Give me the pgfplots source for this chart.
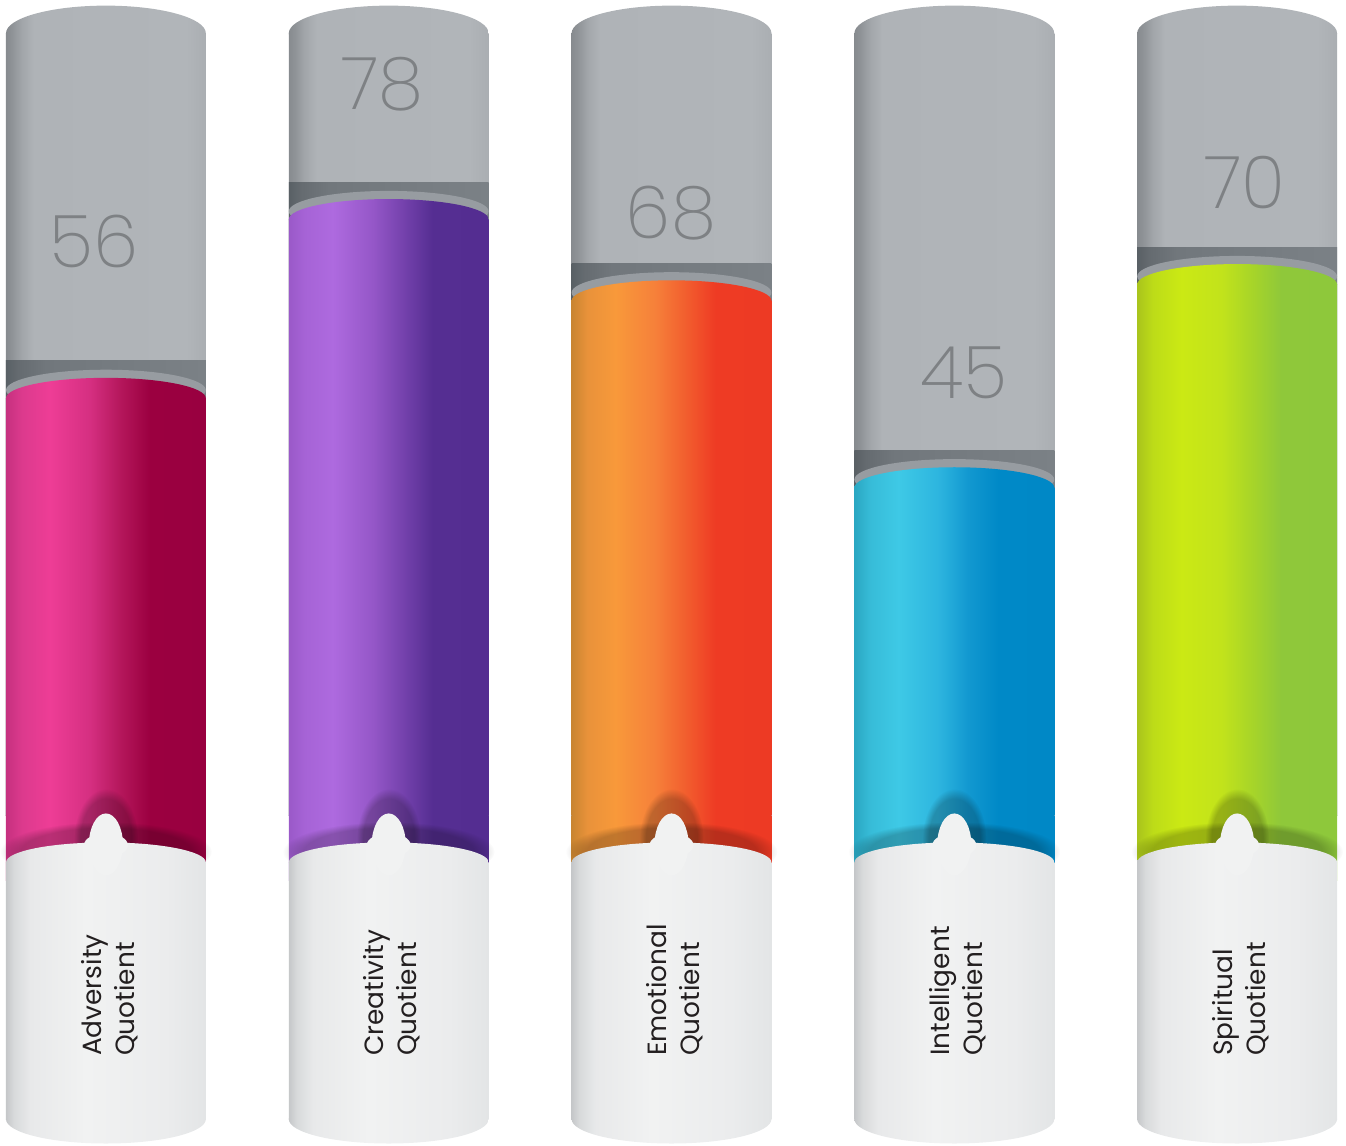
\documentclass[border=0pt]{standalone}
\usepackage{pgfplots}
\pgfplotsset{compat=1.18}
\usepackage{fontspec}
\setmainfont{Poppins}
\newfontfamily\numfont{Poppins ExtraLight}
\usetikzlibrary{shapes.geometric,fadings}

\definecolor{labelc}{HTML}{231F20}
\definecolor{numc}{HTML}{7E8184}
\definecolor{rimc}{HTML}{979CA1}

\definecolor{g0}{HTML}{878B8F}\definecolor{g1}{HTML}{8F9397}\definecolor{g2}{HTML}{A2A6AA}\definecolor{g3}{HTML}{AFB3B7}\definecolor{g4}{HTML}{B1B5B9}\definecolor{g5}{HTML}{AAAEB2}
\pgfdeclarehorizontalshading{grayshade}{100bp}{color(0bp)=(g0); color(25bp)=(g0); color(26.5bp)=(g1); color(29bp)=(g2); color(32bp)=(g3); color(70bp)=(g4); color(75bp)=(g5); color(100bp)=(g5)}
\definecolor{b0}{HTML}{596065}\definecolor{b1}{HTML}{656B70}\definecolor{b2}{HTML}{71777C}\definecolor{b3}{HTML}{7B8186}
\pgfdeclarehorizontalshading{bandshade}{100bp}{color(0bp)=(b0); color(25bp)=(b0); color(28bp)=(b1); color(35bp)=(b2); color(75bp)=(b3); color(100bp)=(b3)}
\definecolor{w0}{HTML}{C5C7C9}\definecolor{w1}{HTML}{D8DADB}\definecolor{w2}{HTML}{E8E9EA}\definecolor{w3}{HTML}{F1F2F2}\definecolor{w4}{HTML}{EBECED}\definecolor{w5}{HTML}{E3E5E6}
\pgfdeclarehorizontalshading{whiteshade}{100bp}{color(0bp)=(w0); color(25bp)=(w0); color(27bp)=(w1); color(31bp)=(w2); color(45bp)=(w3); color(65bp)=(w4); color(75bp)=(w5); color(100bp)=(w5)}

% colour shadings: stops at f = 0, .08, .22, .42, .57, .72, 1
\newcommand{\mkshade}[8]{%
  \definecolor{#1a}{HTML}{#2}\definecolor{#1b}{HTML}{#3}\definecolor{#1c}{HTML}{#4}%
  \definecolor{#1d}{HTML}{#5}\definecolor{#1e}{HTML}{#6}\definecolor{#1f}{HTML}{#7}\definecolor{#1g}{HTML}{#8}%
  \pgfdeclarehorizontalshading{#1}{100bp}{color(0bp)=(#1a); color(25bp)=(#1a); color(29bp)=(#1b); color(36bp)=(#1c); color(46bp)=(#1d); color(53.5bp)=(#1e); color(61bp)=(#1f); color(75bp)=(#1g); color(100bp)=(#1g)}}
\mkshade{pinkshade}{C6307F}{DC3A8D}{EE3D96}{D52F81}{B5175C}{9B0040}{990040}
\mkshade{purpleshade}{9A59C8}{A663D6}{AE6ADF}{9557C8}{7542AD}{552E92}{542D91}
\mkshade{orangeshade}{C98531}{E9923A}{F8993A}{F6803A}{F25E2E}{EE3B24}{ED3A24}
\mkshade{cyanshade}{2AA7C2}{37BCD8}{3EC9E6}{2DB5DF}{1298D0}{0089C7}{0088C6}
\mkshade{greenshade}{A9C41C}{BDDC18}{CBE914}{C2E31B}{A8D528}{8FC83A}{8EC83B}

\pgfplotsset{
  bars/.style={ybar, bar width=0.7067, bar shift=0pt, draw=none, shading=#1},
  nodeplot/.style={only marks, mark=none, nodes near coords={}, every node near coord/.style={#1}},
  ell/.style n args={3}{nodeplot={ellipse, anchor=center, inner sep=0pt, minimum width=#1, minimum height=#2, shading=#3, draw=none}},
}

\newcommand{\cyl}[3]{%
  \addplot[bars=grayshade] coordinates {(#1,96.3)};
  \addplot[ell={100pt}{27.7pt}{grayshade}] coordinates {(#1,96.3)};
  \addplot[bars=bandshade] coordinates {(#1,#2)};
  \addplot[bars=#3, y filter/.expression={y-4.6}] coordinates {(#1,#2)};
  \addplot[bars=#3] coordinates {(#1,-8)};
  \addplot[nodeplot={ellipse, anchor=center, inner sep=0pt, minimum width=100pt, minimum height=20.4pt, fill=rimc, draw=none}, y filter/.expression={y-3.6}] coordinates {(#1,#2)};
  \addplot[ell={100pt}{20.4pt}{#3}, y filter/.expression={y-4.6}] coordinates {(#1,#2)};
  % soft shadows
  \addplot[nodeplot={ellipse, anchor=center, inner sep=0pt, minimum width=106pt, minimum height=30pt, fill=black, fill opacity=0.22, draw=none, path fading=circle with fuzzy edge 20 percent}] coordinates {(#1,-4.4)};
  \addplot[nodeplot={ellipse, anchor=center, inner sep=0pt, minimum width=32pt, minimum height=50pt, fill=black, fill opacity=0.22, draw=none, path fading=circle with fuzzy edge 20 percent}] coordinates {(#1,-2.8)};
  % white bottom
  \addplot[nodeplot={rectangle, anchor=center, inner sep=0pt, minimum width=100pt, minimum height=128.5pt, shading=whiteshade, draw=none}] coordinates {(#1,-21.5)};
  \addplot[ell={100pt}{19.9pt}{whiteshade}] coordinates {(#1,-5.7)};
  \addplot[ell={100pt}{24.4pt}{whiteshade}] coordinates {(#1,-37.3)};
  \addplot[nodeplot={ellipse, anchor=center, inner sep=0pt, minimum width=22pt, minimum height=12pt, fill=w3, draw=none}] coordinates {(#1,-3.6)};
  \addplot[nodeplot={ellipse, anchor=center, inner sep=0pt, minimum width=17pt, minimum height=31pt, fill=w3, draw=none}] coordinates {(#1,-3.5)};
}

\begin{document}
\begin{tikzpicture}
\begin{axis}[
  scale only axis, width=673pt, height=573pt,
  xmin=-0.371, xmax=4.385, ymin=-40.5, ymax=100.4,
  axis line style={draw=none}, xtick=\empty, ytick=\empty,
  clip=false,
]
\cyl{0}{56}{pinkshade}
\cyl{1}{78}{purpleshade}
\cyl{2}{68}{orangeshade}
\cyl{3}{45}{cyanshade}
\cyl{4}{70}{greenshade}

% values
\addplot[only marks, mark=none, nodes near coords, point meta=explicit symbolic,
  every node near coord/.style={anchor=center, inner sep=0pt, font=\numfont\fontsize{36.4}{40}\selectfont, text=numc}]
  coordinates {(-0.041,70.65)[56] (0.977,90.0)[78] (1.998,74.2)[68] (3.035,54.5)[45] (4.027,77.9)[70]};

% category labels
\addplot[only marks, mark=none, nodes near coords, point meta=explicit symbolic,
  every node near coord/.style={rotate=90, anchor=west, align=left, inner sep=0pt, font=\fontsize{13.2}{16.5}\selectfont, text=labelc}]
  coordinates {(0.012,-29.56)[Adversity\\Quotient] (1.012,-29.56)[Creativity\\Quotient] (2.012,-29.56)[Emotional\\Quotient] (3.012,-29.56)[Intelligent\\Quotient] (4.012,-29.56)[Spiritual\\Quotient]};
\end{axis}
\end{tikzpicture}
\end{document}
